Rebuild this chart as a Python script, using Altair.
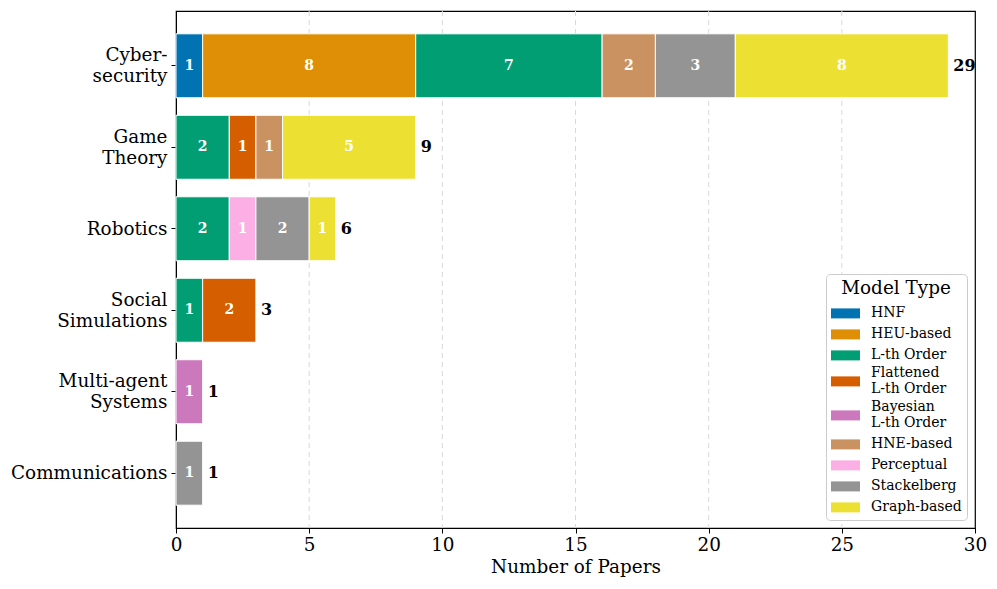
import altair as alt
import pandas as pd

categories = ["Cyber-|security", "Game|Theory", "Robotics", "Social|Simulations",
              "Multi-agent|Systems", "Communications"]
model_types = ["HNF", "HEU-based", "L-th Order", "Flattened|L-th Order", "Bayesian|L-th Order",
               "HNE-based", "Perceptual", "Stackelberg", "Graph-based"]
colors = ["#0173b2", "#de8f05", "#029e73", "#d55e00", "#cc78bc",
          "#ca9161", "#fbafe4", "#949494", "#ece133"]

# counts per category, one list per model type (in model_types order)
cyber = [1, 8, 7, 0, 0, 2, 0, 3, 8]
game = [0, 0, 2, 1, 0, 1, 0, 0, 5]
robotics = [0, 0, 2, 0, 0, 0, 1, 2, 1]
social = [0, 0, 1, 2, 0, 0, 0, 0, 0]
multi = [0, 0, 0, 0, 1, 0, 0, 0, 0]
comms = [0, 0, 0, 0, 0, 0, 0, 1, 0]

x_ticks = [0, 5, 10, 15, 20, 25, 30]
grid_values = [5, 10, 15, 20, 25]

rows = []
for cat, vals in zip(categories, [cyber, game, robotics, social, multi, comms]):
    for i, (m, v) in enumerate(zip(model_types, vals)):
        if v > 0:
            rows.append({"category": cat, "model": m, "count": v, "order": i})
df = pd.DataFrame(rows)

FONT = "DejaVu Serif"

xscale = alt.Scale(domain=[0, 30], nice=False)

grid = alt.Chart(pd.DataFrame({"g": grid_values})).mark_rule(
    color="#d9d9d9", strokeDash=[5, 4], strokeWidth=1
).encode(x=alt.X("g:Q", scale=xscale))

base = alt.Chart(df).transform_stack(
    stack="count", as_=["x0", "x1"], groupby=["category"], sort=[{"field": "order", "order": "ascending"}]
)

yenc = alt.Y("category:N", sort=categories, title=None,
             scale=alt.Scale(paddingInner=0.215, paddingOuter=0.28),
             axis=alt.Axis(labelExpr="split(datum.label, '|')", labelFontSize=18.4,
                           labelFont=FONT, labelColor="black", tickColor="black",
                           domainColor="black", labelPadding=4, tickSize=5,
                           labelLineHeight=21,
                           labelOffset=alt.condition("indexof(datum.label, '|') >= 0",
                                                     alt.value(-10.5), alt.value(0))))

bars = base.mark_bar(stroke="white", strokeWidth=1).encode(
    x=alt.X("x0:Q", title="Number of Papers", scale=xscale,
            axis=alt.Axis(values=x_ticks, labelFontSize=18.4, titleFontSize=18.4,
                          labelFont=FONT, titleFont=FONT, titleFontWeight="normal",
                          labelColor="black", titleColor="black", tickColor="black",
                          domainColor="black", grid=False, labelFlush=False,
                          tickSize=5, titlePadding=4)),
    x2="x1:Q",
    y=yenc,
    color=alt.Color("model:N", sort=model_types,
                    scale=alt.Scale(domain=model_types, range=colors),
                    legend=alt.Legend(title="Model Type", orient="bottom-right", offset=8,
                                      labelExpr="split(datum.label, '|')",
                                      labelBaseline=alt.ExprRef(
                                          "indexof(datum.label, '|') >= 0 ? 'line-bottom' : 'middle'"),
                                      titleFont=FONT, labelFont=FONT, titleFontSize=18.4,
                                      titleFontWeight="normal", labelFontSize=14,
                                      titleColor="black", labelColor="black",
                                      symbolType="M-1.0,-0.5L1.9,-0.5L1.9,0.5L-1.0,0.5Z",
                                      symbolSize=400, symbolStrokeWidth=0,
                                      fillColor="white", strokeColor="#cccccc",
                                      cornerRadius=4, padding=5, rowPadding=4,
                                      titleAnchor="middle", labelLimit=200,
                                      labelOffset=20, titlePadding=6)),
)

seg_text = base.transform_calculate(mid="(datum.x0 + datum.x1) / 2").mark_text(
    color="white", fontWeight="bold", font=FONT, fontSize=14
).encode(x="mid:Q", y=alt.Y("category:N", sort=categories), text="count:Q")

totals = alt.Chart(df).transform_aggregate(
    total="sum(count)", groupby=["category"]
).mark_text(align="left", dx=5, color="black", fontWeight="bold", font=FONT, fontSize=16).encode(
    x="total:Q", y=alt.Y("category:N", sort=categories), text="total:Q"
)

chart = (grid + bars + seg_text + totals).properties(
    width=799, height=517, padding={"left": 2, "top": 2, "right": 0, "bottom": 2}
).configure_view(stroke="black", strokeWidth=1.2)

chart.save("out.html", embed_options={"renderer": "svg", "actions": False})
